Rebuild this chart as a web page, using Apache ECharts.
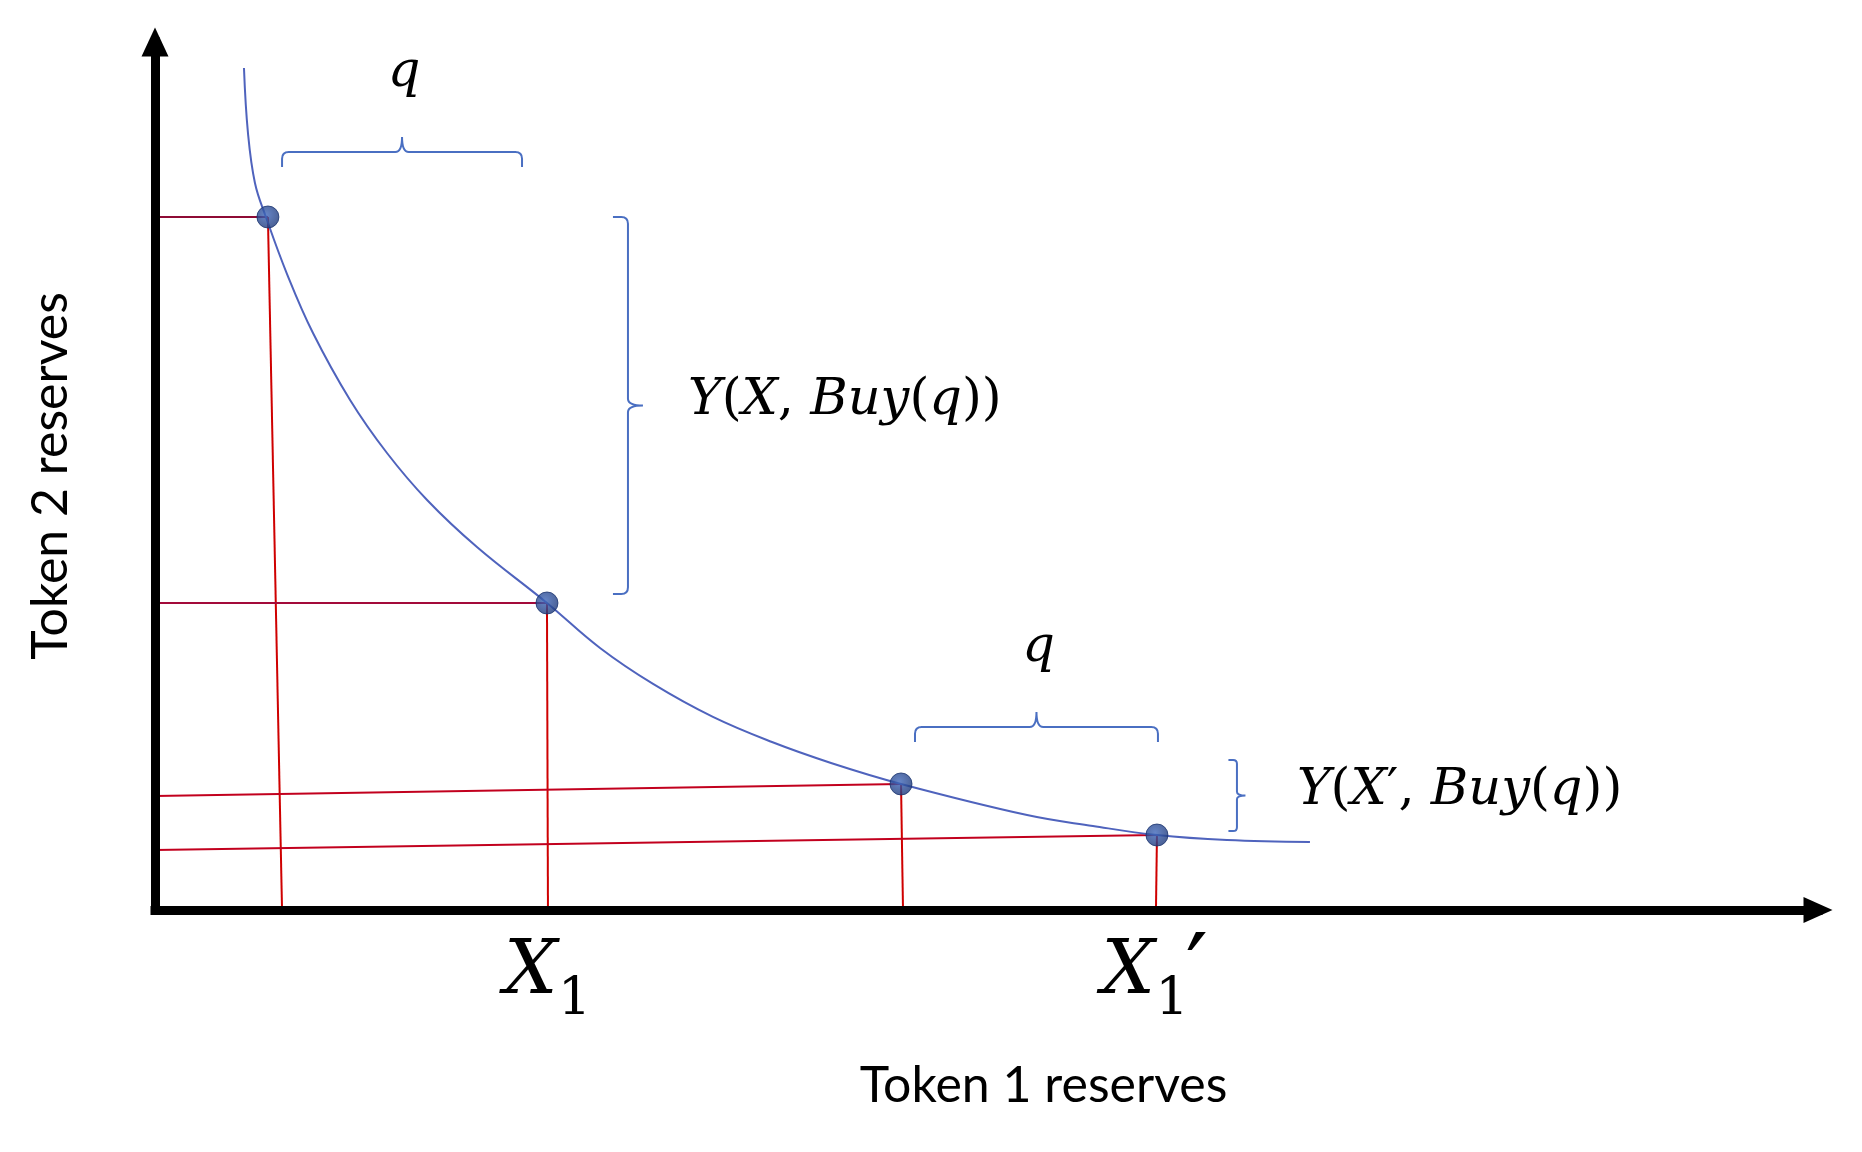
<!DOCTYPE html>
<html>
<head>
<meta charset="utf-8">
<title>Token reserves curve</title>
<script src="https://cdn.jsdelivr.net/npm/echarts@6/dist/echarts.min.js"></script>
<style>
  html, body { margin: 0; padding: 0; background: #fff; }
  #chart { width: 1862px; height: 1152px; }
</style>
</head>
<body>
<div id="chart"></div>
<script>
// bonding curve, token 1 reserves (x) vs token 2 reserves (y), arbitrary units 0..100
const curveX = [5.35, 5.59, 6.01, 6.67, 7.94, 9.50, 11.73, 13.95, 16.36, 19.36, 23.57, 26.76, 29.95, 33.55, 37.10, 40.65, 44.86, 52.44, 56.40, 60.25, 64.46, 69.45]
const curveY = [97.00, 89.52, 83.76, 79.84, 73.27, 66.47, 58.76, 52.65, 47.24, 41.82, 35.37, 30.18, 26.04, 22.24, 19.35, 16.94, 14.52, 10.94, 9.68, 8.64, 8.06, 7.83]

// the four marked states on the curve
const pointX = [6.79, 23.57, 44.86, 60.25]
const pointY = [79.84, 35.37, 14.52, 8.64]
// where the red guides meet the axes (the drawing is a bit skewed)
const guideAxisY = [79.84, 35.37, 13.13, 6.91]
const guideAxisX = [7.64, 23.63, 44.98, 60.19]

// braces, from (x0, y0) to (x1, y1)
const braceX0 = [7.64, 28.44, 45.70, 65.06]
const braceY0 = [87.33, 36.41, 21.08, 9.10]
const braceX1 = [22.07, 28.44, 60.31, 65.06]
const braceY1 = [87.33, 79.84, 21.08, 17.28]
const braceLabel = ['q', 'Y(X, Buy(q))', 'q', 'Y(X′, Buy(q))']

// X_1 marks under the axis, at points 2 and 4
const tickPoint = [1, 3]
const tickPrime = ['', '′']

const MATH_FONT = '"DejaVu Serif", "Liberation Serif", serif'
const BRACE_COLOR = '#4a6fc2'
const hGuideColor = ['#8e0b35', '#a30a3a', '#c2001e', '#c2001e']

// letters italic, brackets and commas upright (like the equation editor)
function mathRich(s) {
  return s.match(/[A-Za-z]+|[^A-Za-z]+/g)
    .map(t => (/[A-Za-z]/.test(t) ? '{i|' : '{n|') + t + '}')
    .join('')
}

const richMath = {
  i: { fontFamily: MATH_FONT, fontStyle: 'italic', fontSize: 51, fill: '#000' },
  n: { fontFamily: MATH_FONT, fontStyle: 'normal', fontSize: 51, fill: '#000' }
}

function renderBrace(params, api) {
  const a = api.coord([api.value(0), api.value(1)])
  const b = api.coord([api.value(2), api.value(3)])
  const idx = api.value(4)
  const vertical = Math.abs(a[0] - b[0]) < Math.abs(a[1] - b[1])
  const len = vertical ? Math.abs(a[1] - b[1]) : Math.abs(a[0] - b[0])
  const d = Math.min(15, len * 0.12)
  const r = d * 0.45
  let path, tx, ty, align
  if (!vertical) {
    const y = a[1]
    const x0 = Math.min(a[0], b[0])
    const x1 = Math.max(a[0], b[0])
    const xm = (x0 + x1) / 2
    path = `M${x0},${y + d} L${x0},${y + r} Q${x0},${y} ${x0 + r},${y} L${xm - r},${y} Q${xm},${y} ${xm},${y - d} ` +
      `Q${xm},${y} ${xm + r},${y} L${x1 - r},${y} Q${x1},${y} ${x1},${y + r} L${x1},${y + d}`
    tx = xm + 2
    ty = y - 79
    align = 'center'
  } else {
    const x = a[0]
    const y0 = Math.min(a[1], b[1])
    const y1 = Math.max(a[1], b[1])
    const ym = (y0 + y1) / 2
    path = `M${x - d},${y0} L${x - r},${y0} Q${x},${y0} ${x},${y0 + r} L${x},${ym - r} Q${x},${ym} ${x + d},${ym} ` +
      `Q${x},${ym} ${x},${ym + r} L${x},${y1 - r} Q${x},${y1} ${x - r},${y1} L${x - d},${y1}`
    tx = x + 60
    ty = ym - 5
    align = 'left'
  }
  return {
    type: 'group',
    children: [
      { type: 'path', shape: { pathData: path }, style: { stroke: BRACE_COLOR, fill: 'none', lineWidth: 2 } },
      {
        type: 'text',
        x: tx,
        y: ty,
        style: { text: mathRich(braceLabel[idx]), rich: richMath, align: align, verticalAlign: 'middle' }
      }
    ]
  }
}

function renderTick(params, api) {
  const p = api.coord([api.value(0), 0])
  const prime = tickPrime[api.value(1)]
  const left = p[0] - 4 - (prime ? 51.5 : 39)
  const children = [
    {
      type: 'text', x: left, y: p[1] + 64,
      style: { text: 'X', fontFamily: MATH_FONT, fontStyle: 'italic', fontSize: 75, fill: '#000', align: 'left', verticalAlign: 'middle' }
    },
    {
      type: 'text', x: left + 54, y: p[1] + 90,
      style: { text: '1', fontFamily: MATH_FONT, fontSize: 52, fill: '#000', align: 'left', verticalAlign: 'middle' }
    }
  ]
  if (prime) {
    children.push({
      type: 'text', x: left + 84, y: p[1] + 68,
      style: { text: prime, fontFamily: MATH_FONT, fontSize: 100, fill: '#000', align: 'left', verticalAlign: 'middle' }
    })
  }
  return { type: 'group', children: children }
}

const guideSeries = []
pointX.forEach((x, i) => {
  guideSeries.push({
    type: 'line',
    data: [[0, guideAxisY[i]], [x, pointY[i]]],
    symbol: 'none',
    lineStyle: { color: hGuideColor[i], width: 2 },
    z: 2
  })
  guideSeries.push({
    type: 'line',
    data: [[x, pointY[i]], [guideAxisX[i], 0]],
    symbol: 'none',
    lineStyle: { color: '#cf0000', width: 2 },
    z: 2
  })
})

const chart = echarts.init(document.getElementById('chart'))
chart.setOption({
  backgroundColor: '#fff',
  animation: false,
  grid: {
    left: 155,
    right: 44,
    top: 42,
    bottom: 242,
    containLabel: false,
    outerBoundsMode: 'none'
  },
  xAxis: {
    type: 'value',
    min: 0,
    max: 100,
    z: 6,
    name: 'Token 1 reserves',
    nameLocation: 'middle',
    nameGap: 151,
    nameTextStyle: { fontFamily: 'Lato', fontSize: 50, color: '#000', padding: [0, 0, 0, 114] },
    axisLine: {
      show: true,
      onZero: false,
      symbol: ['none', 'triangle'],
      symbolSize: [26, 29],
      lineStyle: { color: '#000', width: 9, cap: 'square' }
    },
    axisTick: { show: false },
    axisLabel: { show: false },
    splitLine: { show: false }
  },
  yAxis: {
    type: 'value',
    min: 0,
    max: 100,
    z: 6,
    name: 'Token 2 reserves',
    nameLocation: 'middle',
    nameRotate: 90,
    nameGap: 79,
    nameTextStyle: { fontFamily: 'Lato', fontSize: 50, color: '#000' },
    axisLine: {
      show: true,
      onZero: false,
      symbol: ['none', 'triangle'],
      symbolSize: [27, 29],
      lineStyle: { color: '#000', width: 9, cap: 'square' }
    },
    axisTick: { show: false },
    axisLabel: { show: false },
    splitLine: { show: false }
  },
  series: [
    ...guideSeries,
    {
      type: 'line',
      name: 'curve',
      data: curveX.map((x, i) => [x, curveY[i]]),
      smooth: 0.4,
      symbol: 'none',
      lineStyle: { color: '#4f63bd', width: 2 },
      z: 3
    },
    {
      type: 'scatter',
      data: pointX.map((x, i) => [x, pointY[i]]),
      symbolSize: 22,
      itemStyle: {
        color: new echarts.graphic.RadialGradient(0.42, 0.4, 0.62, [
          { offset: 0, color: '#3f67ba' },
          { offset: 1, color: '#1d3879' }
        ]),
        borderColor: '#1c356f',
        borderWidth: 1
      },
      z: 5
    },
    {
      type: 'custom',
      renderItem: renderBrace,
      data: braceX0.map((x, i) => [x, braceY0[i], braceX1[i], braceY1[i], i]),
      z: 4
    },
    {
      type: 'custom',
      renderItem: renderTick,
      data: tickPoint.map((pi, k) => [pointX[pi], k]),
      z: 4
    }
  ]
})
</script>
</body>
</html>
